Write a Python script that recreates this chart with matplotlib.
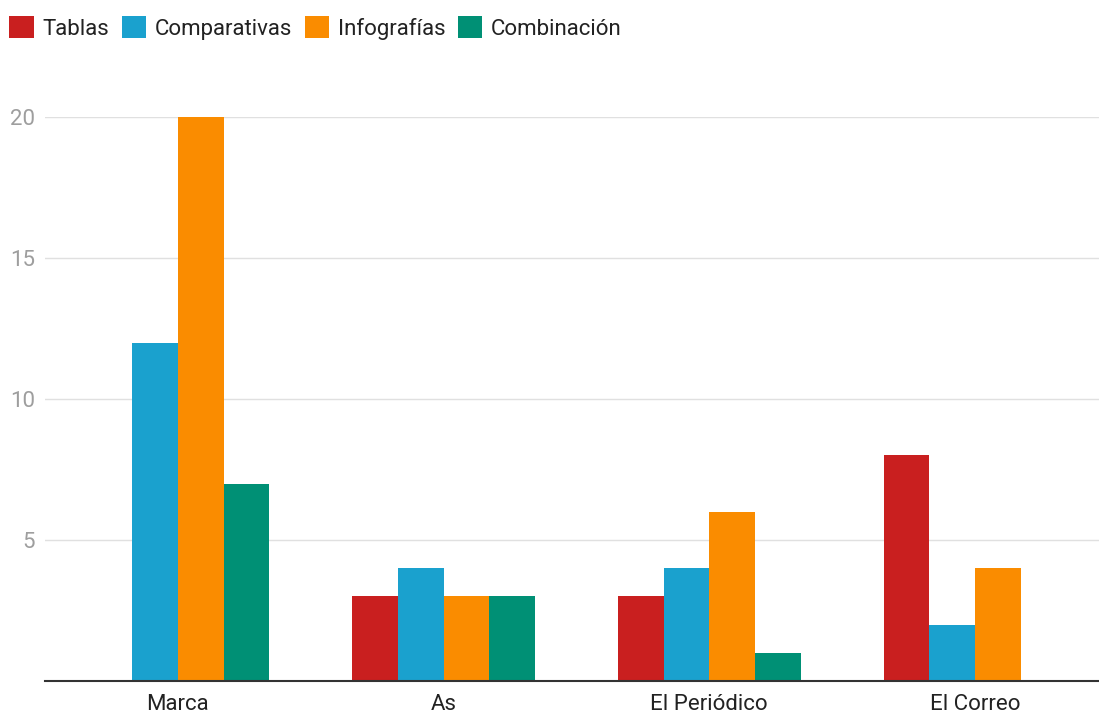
import matplotlib
matplotlib.use("Agg")
from matplotlib import pyplot as plt
import numpy as np

categories = ["Marca", "As", "El Periódico", "El Correo"]
series_names = ["Tablas", "Comparativas", "Infografías", "Combinación"]
tablas = [0, 3, 3, 8]
comparativas = [12, 4, 4, 2]
infografias = [20, 3, 6, 4]
combinacion = [7, 3, 1, 0]
y_ticks = [5, 10, 15, 20]

colors = ["#c91f1f", "#1aa1ce", "#fa8c00", "#009075"]


def main():
    plt.rcParams["font.family"] = ["Roboto", "DejaVu Sans"]
    fig = plt.figure(figsize=(10.99, 7.13), dpi=100)
    W, H = 1099, 713
    ax = fig.add_axes([45 / W, 32 / H, (W - 45) / W, (681 - 117) / H])

    x = np.arange(len(categories))
    bw = 0.172
    data = [tablas, comparativas, infografias, combinacion]
    for i, (name, vals) in enumerate(zip(series_names, data)):
        ax.bar(x + (i - 1.5) * bw, vals, bw, color=colors[i], label=name, zorder=3)

    ax.set_xlim(-0.5, 3.467)
    ax.set_ylim(0, 20)
    ax.set_yticks(y_ticks)
    ax.set_xticks(x)
    ax.set_xticklabels(categories, fontsize=16, color="#222222")
    ax.tick_params(axis="y", length=0, labelsize=16, labelcolor="#9e9e9e", pad=7)
    ax.tick_params(axis="x", length=0, pad=9)
    ax.grid(axis="y", color="#e0e0e0", linewidth=1, zorder=0)
    for s in ["top", "right", "left"]:
        ax.spines[s].set_visible(False)
    ax.spines["bottom"].set_color("#333333")
    ax.spines["bottom"].set_linewidth(1.5)
    ax.spines["bottom"].set_zorder(4)

    fig.legend(loc="upper left", bbox_to_anchor=(-5 / W, 1 - 2 / H), ncol=4,
               frameon=False, fontsize=16, handlelength=1.1, handleheight=1.1,
               handletextpad=0.4, columnspacing=0.55, labelcolor="#222222",
               borderpad=0.55, borderaxespad=0.1)

    fig.savefig("out.png", dpi=100)


if __name__ == "__main__":
    main()
